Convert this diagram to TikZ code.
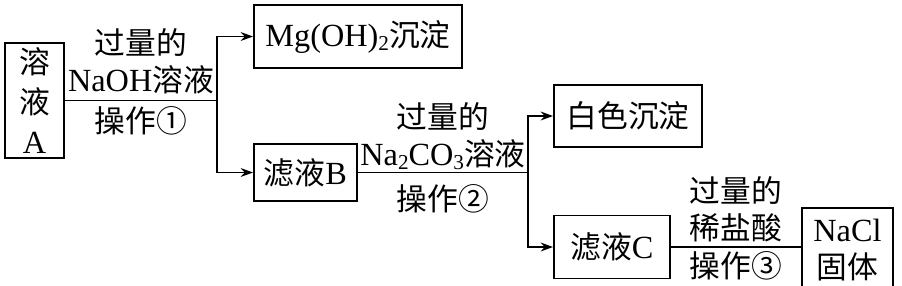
\documentclass[tikz,border=0pt]{standalone}
\usepackage{fontspec}
\setmainfont{Liberation Serif}[Scale=1.05]
\newfontfamily\zhfont{Noto Sans CJK SC}
\newcommand{\zh}[1]{{\zhfont #1}}
\newcommand{\chemsub}[1]{\raisebox{-0.28ex}{\fontsize{11.5}{12}\selectfont #1}}
\usetikzlibrary{arrows.meta, positioning}

\begin{document}
\begin{tikzpicture}[
    x=0.02cm, y=-0.02cm,
    box/.style  = {rectangle, draw, line width=1.1pt, inner sep=0pt,
                   align=center, font=\fontsize{17.5}{21}\selectfont},
    line/.style = {line width=1.1pt},
    arr/.style  = {-{Stealth[length=7pt, width=5pt]}, line width=1.1pt},
    lbl/.style  = {font=\fontsize{17.5}{21}\selectfont, align=center,
                   midway, inner sep=3pt}
]
\useasboundingbox (0,0) rectangle (902,285);

%% Boxes
\node[box, minimum width=1.18cm, minimum height=2.3cm,
      font=\fontsize{17.5}{22.5}\selectfont]                (sa)    at (34.5,100.5) {\zh{溶}\\\zh{液}\\A};
\node[box, minimum width=4.16cm, minimum height=1.26cm] (mg)    at (358,36.5)   {Mg(OH)\chemsub{2}\zh{沉淀}};
\node[box, minimum width=2.06cm, minimum height=1.14cm] (fb)    at (305.5,172.5){\zh{滤液}B};
\node[box, minimum width=2.96cm, minimum height=1.24cm] (white) at (628,116)    {\zh{白色沉淀}};
\node[box, minimum width=2.32cm, minimum height=1.26cm] (fc)    at (612,247)    {\zh{滤液}C};
\node[box, minimum width=1.82cm, minimum height=1.68cm] (nacl)  at (847.5,250)  {NaCl\\\zh{固体}};

%% Branch points
\path (sa.east) -- ++(152,0) coordinate (j1);
\path (fb.east) -- ++(170,0) coordinate (j2);

%% Step 1
\draw[line] (sa.east) -- node[lbl, above]{\zh{过量的}\\NaOH\zh{溶液}}
                         node[lbl, below]{\zh{操作①}} (j1);
\draw[arr] (j1) |- (mg.west);
\draw[arr] (j1) |- (fb.west);

%% Step 2
\draw[line] (fb.east) -- node[lbl, above, inner sep=1pt]{\zh{过量的}\\Na\chemsub{2}CO\chemsub{3}\zh{溶液}}
                         node[lbl, below, inner sep=6.5pt]{\zh{操作②}} (j2);
\draw[arr] (j2) |- (white.west);
\draw[arr] (j2) |- (fc.west);

%% Step 3
\draw[line] (fc.east) -- node[lbl, above, inner sep=2.5pt]{\zh{过量的}\\\zh{稀盐酸}}
                         node[lbl, below, inner sep=2pt]{\zh{操作③}} (nacl.west |- fc.east);

\end{tikzpicture}
\end{document}
